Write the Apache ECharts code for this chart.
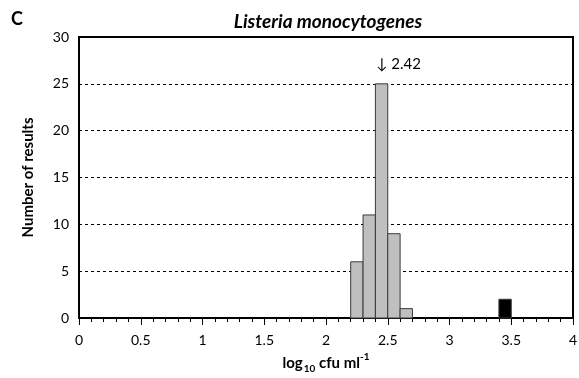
<!DOCTYPE html>
<html>
<head>
<meta charset="utf-8">
<script src="https://cdn.jsdelivr.net/npm/echarts@6/dist/echarts.min.js"></script>
<style>
  html, body { margin: 0; padding: 0; background: #fff; }
  #chart { width: 579px; height: 378px; }
</style>
</head>
<body>
<div id="chart"></div>
<script>
// Histogram bins (log10 cfu/ml), width 0.1
const binStarts = [2.2, 2.3, 2.4, 2.5, 2.6];
const binCounts = [6, 11, 25, 9, 1];
// Outlying results
const outlierStarts = [3.4];
const outlierCounts = [2];
const binWidth = 0.1;
// Assigned value shown above the modal bin
const assignedValue = 2.42;
const yTicks = [0, 5, 10, 15, 20, 25, 30];

const FONT = 'Lato, "Liberation Sans", sans-serif';

function histItem(fill) {
  return function (params, api) {
    const x0 = api.value(0);
    const h = api.value(1);
    const p0 = api.coord([x0, 0]);
    const p1 = api.coord([x0 + binWidth, h]);
    return {
      type: 'rect',
      shape: { x: p0[0], y: p1[1], width: p1[0] - p0[0], height: p0[1] - p1[1] },
      style: { fill: fill, stroke: '#3a3a3a', lineWidth: 1 }
    };
  };
}

const chart = echarts.init(document.getElementById('chart'), null, { renderer: 'canvas' });
const modalIdx = binCounts.indexOf(Math.max(...binCounts));

chart.setOption({
  animation: false,
  textStyle: { fontFamily: FONT },
  graphic: [
    { type: 'text', left: 11, top: 10,
      style: { text: 'C', font: 'bold 18px ' + FONT, fill: '#000' } },
    { type: 'text', x: 328, y: 22,
      style: { text: 'Listeria monocytogenes', font: 'italic bold 19px ' + FONT, fill: '#000',
               align: 'center', verticalAlign: 'middle' } }
  ],
  grid: {
    left: 79, right: 6, top: 37, bottom: 60,
    outerBoundsMode: 'none', containLabel: false,
    show: true, borderColor: '#000', borderWidth: 2
  },
  xAxis: {
    type: 'value', min: 0, max: 4, interval: 0.5,
    axisLine: { lineStyle: { color: '#000', width: 2 } },
    axisTick: { show: true, length: 7, lineStyle: { color: '#000', width: 1 } },
    minorTick: { show: true, splitNumber: 5, length: 4, lineStyle: { color: '#000', width: 1 } },
    splitLine: { show: false },
    axisLabel: { color: '#000', fontSize: 14, margin: 15, formatter: v => String(v) },
    name: '{a|log}{s|10}{a| cfu ml}{p|-1}',
    nameLocation: 'middle', nameGap: 34,
    nameTextStyle: {
      rich: {
        a: { fontFamily: FONT, fontSize: 15, fontWeight: 'bold', color: '#000', lineHeight: 22, verticalAlign: 'middle' },
        s: { fontFamily: FONT, fontSize: 10, fontWeight: 'bold', color: '#000', lineHeight: 10, verticalAlign: 'bottom', padding: [0, 0, 0, 1] },
        p: { fontFamily: FONT, fontSize: 10, fontWeight: 'bold', color: '#000', lineHeight: 10, verticalAlign: 'top' }
      }
    }
  },
  yAxis: {
    type: 'value', min: yTicks[0], max: yTicks[yTicks.length - 1], interval: 5,
    axisLine: { show: true, lineStyle: { color: '#000', width: 2 } },
    axisTick: { show: false },
    splitLine: { show: true, lineStyle: { color: '#000', type: [3, 3], width: 1 } },
    axisLabel: { color: '#000', fontSize: 14, margin: 10 },
    name: 'Number of results', nameLocation: 'middle', nameGap: 43,
    nameTextStyle: { fontFamily: FONT, fontSize: 15, fontWeight: 'bold', color: '#000' }
  },
  series: [
    {
      type: 'custom',
      renderItem: histItem('#bfbfbf'),
      data: binStarts.map((s, i) => [s, binCounts[i]]),
      z: 3
    },
    {
      type: 'custom',
      renderItem: histItem('#000'),
      data: outlierStarts.map((s, i) => [s, outlierCounts[i]]),
      z: 3
    },
    {
      type: 'scatter',
      symbolSize: 0,
      silent: true,
      itemStyle: { opacity: 1, color: '#000' },
      data: [[binStarts[modalIdx] + binWidth / 2, binCounts[modalIdx]]],
      label: {
        show: true, position: 'top', distance: 12, offset: [17, 0],
        formatter: '↓ ' + assignedValue,
        color: '#000', opacity: 1, fontSize: 15, fontFamily: FONT
      },
      z: 4
    }
  ]
});
</script>
</body>
</html>
